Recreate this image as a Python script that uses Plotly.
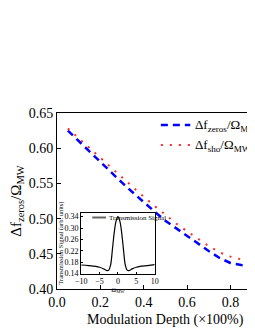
import plotly.graph_objects as go

# ---- main data ----
mod_depth = [0.05, 0.10, 0.15, 0.20, 0.25, 0.30, 0.35, 0.40, 0.45, 0.50,
             0.55, 0.60, 0.65, 0.70, 0.75, 0.80, 0.85, 0.90]
df_zeros = [0.625, 0.610, 0.595, 0.580, 0.565, 0.551, 0.537, 0.523, 0.510, 0.497,
            0.486, 0.475, 0.464, 0.454, 0.444, 0.437, 0.434, 0.433]
df_sho = [0.628, 0.614, 0.600, 0.586, 0.572, 0.558, 0.544, 0.531, 0.518, 0.505,
          0.493, 0.482, 0.471, 0.461, 0.452, 0.446, 0.442, 0.439]

x_ticks = [0.0, 0.2, 0.4, 0.6, 0.8]
y_ticks = [0.40, 0.45, 0.50, 0.55, 0.60, 0.65]

# ---- inset data ----
omega = [-10, -8, -6, -5, -4, -3, -2.5, -2, -1.5, -1, -0.5, 0,
         0.5, 1, 1.5, 2, 2.5, 3, 4, 5, 6, 8, 10]
trans = [0.170, 0.168, 0.165, 0.162, 0.157, 0.150, 0.152, 0.170, 0.225, 0.285, 0.325, 0.340,
         0.325, 0.285, 0.225, 0.170, 0.152, 0.150, 0.157, 0.162, 0.165, 0.168, 0.171]
inset_x_ticks = [-10, -5, 0, 5, 10]
inset_y_ticks = [0.14, 0.18, 0.22, 0.26, 0.30, 0.34]

FONT = "Liberation Serif"
OFF = 8  # page body margin
W, H = 255 - OFF, 330 - OFF
L, T = 57 - OFF, 113 - OFF
R = 0
B = H - (289 - OFF)
PW, PH = W - L - R, H - T - B

def px(x):
    """page pixel x -> paper coordinate"""
    return (x - OFF - L) / PW

def py(y):
    """page pixel y -> paper coordinate"""
    return (H - B - (y - OFF)) / PH

fig = go.Figure()
fig.add_trace(go.Scatter(x=mod_depth, y=df_zeros, mode="lines",
                         line=dict(color="#0000ff", width=2.5, dash="7px,5px"),
                         name="Δf<sub>zeros</sub>/Ω<sub>MW</sub>", showlegend=False))
fig.add_trace(go.Scatter(x=mod_depth, y=df_sho, mode="lines",
                         line=dict(color="#ff2a2a", width=2, dash="2px,7px"),
                         name="Δf<sub>sho</sub>/Ω<sub>MW</sub>", showlegend=False))
fig.add_trace(go.Scatter(x=omega, y=trans, mode="lines", xaxis="x2", yaxis="y2",
                         line=dict(color="black", width=1.2, shape="spline"),
                         name="Transmission Signal", showlegend=False))

axis_common = dict(showline=True, linecolor="black", linewidth=1, showgrid=False,
                   zeroline=False, ticks="inside", tickcolor="black",
                   tickfont=dict(family=FONT, size=14, color="black"))

fig.update_layout(
    width=W, height=H,
    margin=dict(l=L, r=R, t=T, b=B),
    paper_bgcolor="white", plot_bgcolor="white",
    font=dict(family=FONT, color="black"),
    xaxis=dict(range=[0, 0.895], tickvals=x_ticks, ticktext=[f"{v:.1f}" for v in x_ticks],
               ticklen=4, mirror=True, **axis_common),
    yaxis=dict(range=[0.40, 0.65], tickvals=y_ticks, ticktext=[f"{v:.2f}" for v in y_ticks],
               ticklen=4,
               title=dict(text="Δf<sub>zeros</sub>/Ω<sub>MW</sub>",
                          font=dict(family=FONT, size=15, color="black"), standoff=4),
               **axis_common),
    xaxis2=dict(domain=[px(81.7), px(156.7)], anchor="y2", range=[-10, 10],
                tickvals=inset_x_ticks, ticklen=2, mirror=True,
                showline=True, linecolor="black", linewidth=1, showgrid=False, zeroline=False,
                ticks="inside", tickcolor="black",
                tickfont=dict(family=FONT, size=8, color="black"),
                title=dict(text="Ω<sub>MW</sub>", font=dict(family=FONT, size=6.5), standoff=0)),
    yaxis2=dict(domain=[py(273.5), py(212.7)], anchor="x2", range=[0.14, 0.354],
                tickvals=inset_y_ticks, ticktext=[f"{v:.2f}" for v in inset_y_ticks],
                ticklen=2, mirror=True,
                showline=True, linecolor="black", linewidth=1, showgrid=False, zeroline=False,
                ticks="inside", tickcolor="black",
                tickfont=dict(family=FONT, size=8, color="black"),
                title=dict(text="Transmission Signal (arb. units)",
                           font=dict(family=FONT, size=6.5), standoff=0)),
)

# manual legend (main) - the original figure is cropped at the right edge
legend_rows = [
    ("Δf<sub>zeros</sub>/Ω<sub>MW</sub>", 125, dict(color="#0000ff", width=2.5, dash="7px,5px")),
    ("Δf<sub>sho</sub>/Ω<sub>MW</sub>", 145, dict(color="#ff2a2a", width=2, dash="2px,7px")),
]
for text, yy, ln in legend_rows:
    fig.add_shape(type="line", xref="paper", yref="paper",
                  x0=px(163), x1=px(193), y0=py(yy), y1=py(yy), line=ln)
    fig.add_annotation(text=text, xref="paper", yref="paper", x=px(196), y=py(yy),
                       xanchor="left", yanchor="middle", showarrow=False,
                       font=dict(family=FONT, size=13, color="black"))

# inset legend
fig.add_shape(type="line", xref="paper", yref="paper",
              x0=px(93), x1=px(107), y0=py(217.5), y1=py(217.5),
              line=dict(color="#666666", width=2))
fig.add_annotation(text="Transmission Signal", xref="paper", yref="paper",
                   x=px(108.5), y=py(217.5), xanchor="left", yanchor="middle",
                   showarrow=False, font=dict(family=FONT, size=7, color="black"))

# x-axis title (the original axis extends past the crop, so it sits right of centre)
fig.add_annotation(text="Modulation Depth (×100%)", xref="paper", yref="paper",
                   x=px(167.5), y=py(320), xanchor="center", yanchor="middle",
                   showarrow=False, font=dict(family=FONT, size=14, color="black"))

fig.write_html("out.html")
